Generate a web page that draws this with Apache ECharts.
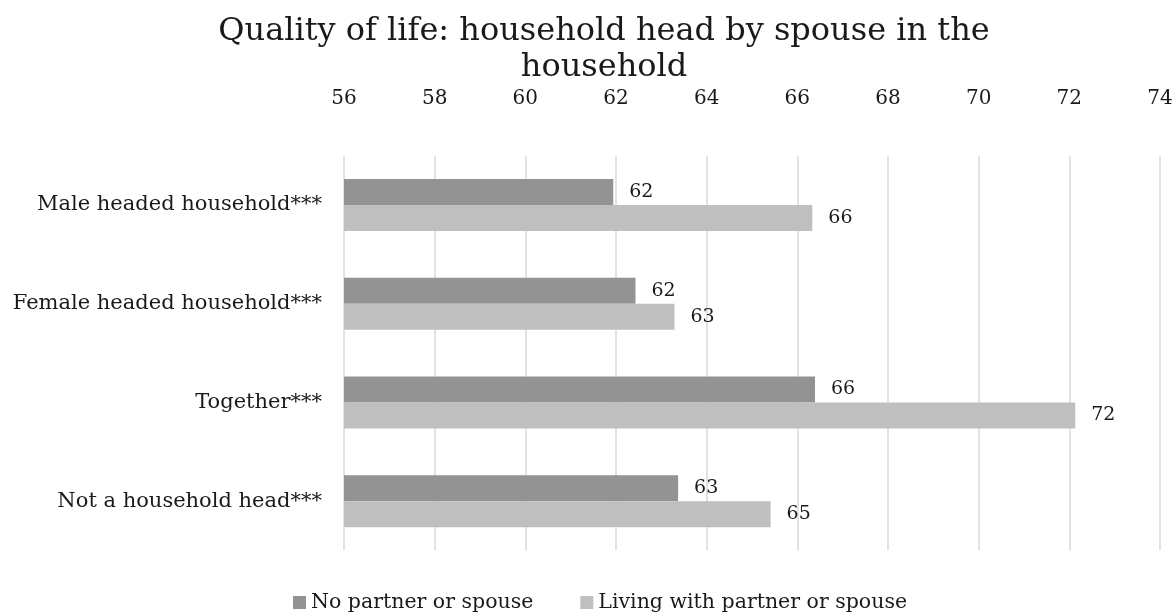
<!DOCTYPE html>
<html>
<head>
<meta charset="utf-8">
<script src="https://cdn.jsdelivr.net/npm/echarts@6/dist/echarts.min.js"></script>
<style>
  html, body { margin: 0; padding: 0; background: #ffffff; }
  #chart { width: 1176px; height: 612px; }
</style>
</head>
<body>
<div id="chart"></div>
<script>
// Household groups, listed top to bottom
const categories = [
  'Male headed household***',
  'Female headed household***',
  'Together***',
  'Not a household head***'
];
const seriesNames = ['No partner or spouse', 'Living with partner or spouse'];
// Quality of life score per group
const noPartner = [61.94, 62.43, 66.39, 63.37];
const withPartner = [66.33, 63.29, 72.13, 65.41];

const FONT = '"DejaVu Serif", Georgia, serif';
const TEXT = '#1a1a1a';

const chart = echarts.init(document.getElementById('chart'), null, { renderer: 'canvas' });

const valueLabel = {
  show: true,
  position: 'right',
  distance: 16,
  fontFamily: FONT,
  fontSize: 19,
  color: TEXT,
  formatter: p => String(Math.round(p.value))
};

chart.setOption({
  animation: false,
  backgroundColor: '#ffffff',
  title: {
    text: 'Quality of life: household head by spouse in the\nhousehold',
    left: 599,
    textAlign: 'center',
    top: 9,
    textStyle: {
      fontFamily: FONT,
      fontWeight: 'normal',
      fontSize: 32,
      lineHeight: 36,
      color: TEXT
    }
  },
  legend: {
    data: seriesNames,
    left: 288,
    top: 587,
    itemWidth: 13,
    itemHeight: 13,
    itemGap: 47,
    icon: 'rect',
    textStyle: { fontFamily: FONT, fontSize: 20.5, color: TEXT }
  },
  grid: {
    left: 344,
    right: 16,
    top: 155.5,
    bottom: 61.5,
    containLabel: false
  },
  xAxis: {
    type: 'value',
    position: 'top',
    min: 56,
    max: 74,
    interval: 2,
    axisLine: { show: false },
    axisTick: { show: false },
    axisLabel: {
      margin: 47,
      fontFamily: FONT,
      fontSize: 20,
      color: TEXT
    },
    splitLine: { show: true, lineStyle: { color: '#d9d9d9', width: 1.5 } }
  },
  yAxis: {
    type: 'category',
    data: categories,
    inverse: true,
    axisLine: { show: false },
    axisTick: { show: false },
    axisLabel: {
      margin: 22,
      fontFamily: FONT,
      fontSize: 21,
      color: TEXT
    }
  },
  series: [
    {
      name: seriesNames[0],
      type: 'bar',
      data: noPartner,
      barWidth: 26,
      barGap: '0%',
      itemStyle: { color: '#939393' },
      label: valueLabel
    },
    {
      name: seriesNames[1],
      type: 'bar',
      data: withPartner,
      barWidth: 26,
      itemStyle: { color: '#bfbfbf' },
      label: valueLabel
    }
  ]
});
</script>
</body>
</html>
